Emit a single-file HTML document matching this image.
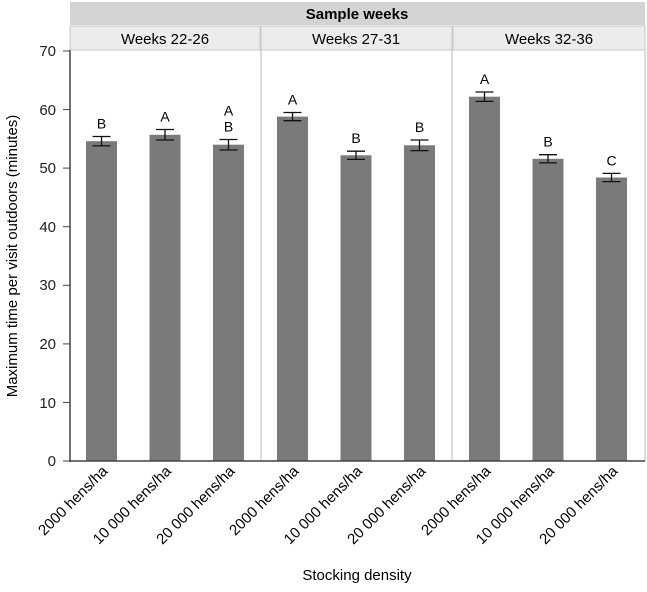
<!DOCTYPE html><html><head><style>body{margin:0;background:#fff}</style></head><body>
<svg width="647" height="587" xmlns="http://www.w3.org/2000/svg" font-family="Liberation Sans, sans-serif">
<rect x="70" y="2" width="575" height="23" fill="#d4d4d4"/>
<text x="357" y="19" font-size="15" font-weight="bold" text-anchor="middle">Sample weeks</text>
<g fill="#ececec" stroke="#c8c8c8"><rect x="70" y="26" width="190" height="24"/><rect x="261" y="26" width="191" height="24"/><rect x="453" y="26" width="192" height="24"/></g>
<g font-size="15" text-anchor="middle"><text x="165" y="44">Weeks 22-26</text><text x="356" y="44">Weeks 27-31</text><text x="549" y="44">Weeks 32-36</text></g>
<g stroke="#bbb"><line x1="261" y1="50" x2="261" y2="461"/><line x1="452" y1="50" x2="452" y2="461"/><line x1="645" y1="50" x2="645" y2="461"/></g>
<g fill="#7a7a7a">
<rect x="86" y="141.2" width="31" height="319.8"/>
<rect x="149.5" y="134.8" width="31" height="326.2"/>
<rect x="213" y="144.7" width="31" height="316.3"/>
<rect x="277" y="116.6" width="31" height="344.4"/>
<rect x="340.5" y="155.3" width="31" height="305.7"/>
<rect x="404" y="145.3" width="31" height="315.7"/>
<rect x="469" y="96.7" width="31" height="364.3"/>
<rect x="532.5" y="158.8" width="31" height="302.2"/>
<rect x="596" y="177.5" width="31" height="283.5"/>
</g>
<g stroke="#111" stroke-width="1.3" fill="none">
<path d="M101.5 136.5V145.9M92.5 136.5H110.5M92.5 145.9H110.5"/>
<path d="M165 129.5V140M156 129.5H174M156 140H174"/>
<path d="M228.5 139.5V150M219.5 139.5H237.5M219.5 150H237.5"/>
<path d="M292.5 112.5V120.7M283.5 112.5H301.5M283.5 120.7H301.5"/>
<path d="M356 151.2V159.4M347 151.2H365M347 159.4H365"/>
<path d="M419.5 140V150.6M410.5 140H428.5M410.5 150.6H428.5"/>
<path d="M484.5 92V101.4M475.5 92H493.5M475.5 101.4H493.5"/>
<path d="M548 154.7V162.9M539 154.7H557M539 162.9H557"/>
<path d="M611.5 173.4V181.6M602.5 173.4H620.5M602.5 181.6H620.5"/>
</g>
<g font-size="14" text-anchor="middle">
<text x="101.5" y="128.5">B</text>
<text x="165" y="121.5">A</text>
<text x="228.5" y="115.5">A</text><text x="228.5" y="131.5">B</text>
<text x="292.5" y="104.5">A</text>
<text x="356" y="143.2">B</text>
<text x="419.5" y="132">B</text>
<text x="484.5" y="84">A</text>
<text x="548" y="146.7">B</text>
<text x="611.5" y="165.4">C</text>
</g>
<g stroke="#444" stroke-width="1.5"><line x1="70" y1="50" x2="70" y2="462"/><line x1="70" y1="461" x2="645" y2="461"/></g>
<g font-size="15" text-anchor="end" fill="#222">
<text x="56" y="466">0</text><text x="56" y="408">10</text><text x="56" y="349">20</text><text x="56" y="290">30</text><text x="56" y="232">40</text><text x="56" y="173">50</text><text x="56" y="115">60</text><text x="56" y="56">70</text></g>
<g stroke="#444"><line x1="63" y1="461" x2="70" y2="461"/><line x1="63" y1="402.4" x2="70" y2="402.4"/><line x1="63" y1="343.9" x2="70" y2="343.9"/><line x1="63" y1="285.3" x2="70" y2="285.3"/><line x1="63" y1="226.7" x2="70" y2="226.7"/><line x1="63" y1="168.1" x2="70" y2="168.1"/><line x1="63" y1="109.6" x2="70" y2="109.6"/><line x1="63" y1="51" x2="70" y2="51"/></g>
<text transform="translate(17,256) rotate(-90)" font-size="15" text-anchor="middle">Maximum time per visit outdoors (minutes)</text>
<text x="357" y="580" font-size="15" text-anchor="middle">Stocking density</text>
<g font-size="15" text-anchor="end">
<text transform="translate(108.5,472) rotate(-45)">2000 hens/ha</text>
<text transform="translate(172,472) rotate(-45)">10 000 hens/ha</text>
<text transform="translate(235.5,472) rotate(-45)">20 000 hens/ha</text>
<text transform="translate(299.5,472) rotate(-45)">2000 hens/ha</text>
<text transform="translate(363,472) rotate(-45)">10 000 hens/ha</text>
<text transform="translate(426.5,472) rotate(-45)">20 000 hens/ha</text>
<text transform="translate(491.5,472) rotate(-45)">2000 hens/ha</text>
<text transform="translate(555,472) rotate(-45)">10 000 hens/ha</text>
<text transform="translate(618.5,472) rotate(-45)">20 000 hens/ha</text>
</g>
</svg></body></html>
